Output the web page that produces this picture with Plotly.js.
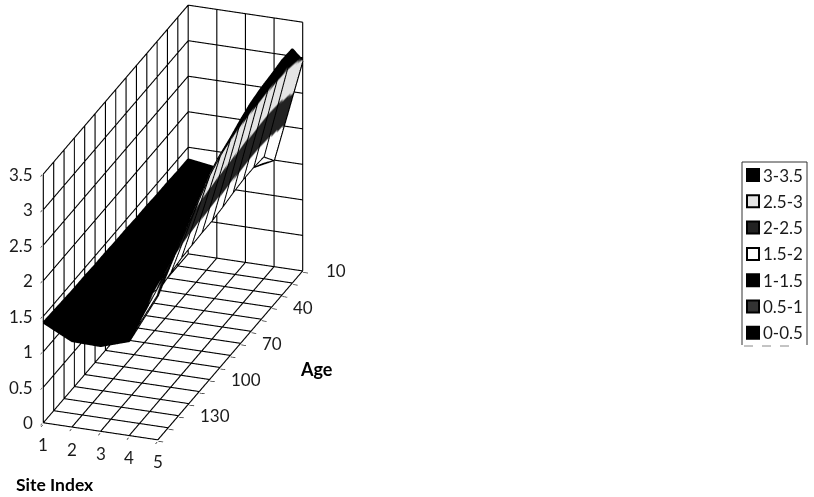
<!DOCTYPE html>
<html><head><meta charset="utf-8">
<script src="https://cdn.plot.ly/plotly-3.0.1.min.js"></script>
<style>html,body{margin:0;padding:0;background:#fff}#c{width:814px;height:497px}</style></head>
<body><div id="c"></div>
<script>
const sites=[1,2,3,4,5];
const ages=[10,20,30,40,50,60,70,80,90,100,110,120,130,140,150];
const site1=[1.33,1.33,1.34,1.34,1.35,1.35,1.36,1.36,1.37,1.37,1.38,1.38,1.39,1.40,1.41];
const site2=[1.27,1.27,1.27,1.26,1.26,1.26,1.25,1.25,1.24,1.24,1.23,1.23,1.22,1.22,1.21];
const site3=[1.30,1.30,1.29,1.29,1.28,1.28,1.27,1.26,1.26,1.25,1.24,1.23,1.22,1.21,1.20];
const site4=[1.50,1.72,1.74,1.74,1.72,1.69,1.67,1.67,1.66,1.65,1.62,1.57,1.50,1.42,1.33];
const site5=[2.96,3.29,3.30,3.27,3.25,3.21,3.14,3.05,2.98,2.88,2.72,2.56,2.40,2.22,2.03];
const ageTicks=[10,40,70,100,130];
const zTicks=[0,0.5,1,1.5,2,2.5,3,3.5];
const bands=['3-3.5','2.5-3','2-2.5','1.5-2','1-1.5','0.5-1','0-0.5'];
const bandFill=['#000000','#e4e4e4','#222222','#ffffff','#000000','#333333','#000000'];

const zMatrix=ages.map((a,i)=>[site1[i],site2[i],site3[i],site4[i],site5[i]]);
const n=bands.length, cs=[];
bands.slice().reverse().forEach((b,i)=>{const c=bandFill[n-1-i];cs.push([i/n,c]);cs.push([(i+1)/n,c]);});

const W=814,H=497;
const px=x=>x/W, py=y=>1-y/H;
const font='Lato, "Open Sans", sans-serif';
const txt='#1a1a1a';

const sMin=sites[0], sMax=sites[sites.length-1], aMin=ages[0], aMax=ages[ages.length-1], zMax=zTicks[zTicks.length-1];

/* grid and mesh as thick 3-D polylines, built from the data arrays */
const grid={x:[],y:[],z:[]}, mesh={x:[],y:[],z:[]};
const seg=(t,xs,ys,zs)=>{xs.forEach((v,i)=>{t.x.push(v);t.y.push(ys[i]);t.z.push(zs[i]);});t.x.push(null);t.y.push(null);t.z.push(null);};
ages.forEach(a=>{seg(grid,[sMin,sMax],[a,a],[0,0]);seg(grid,[sMin,sMin],[a,a],[0,zMax]);});
sites.forEach(s=>{seg(grid,[s,s],[aMin,aMax],[0,0]);seg(grid,[s,s],[aMin,aMin],[0,zMax]);});
zTicks.forEach(z=>{seg(grid,[sMin,sMin],[aMin,aMax],[z,z]);seg(grid,[sMin,sMax],[aMin,aMin],[z,z]);});
ages.forEach((a,i)=>seg(mesh,sites,sites.map(()=>a),zMatrix[i]));
sites.forEach((s,j)=>seg(mesh,ages.map(()=>s),ages,zMatrix.map(r=>r[j])));

const sceneAnn=[];
zTicks.forEach(z=>sceneAnn.push({x:1,y:150,z:z,text:String(z),showarrow:false,xanchor:'right',yanchor:'middle',xshift:-8,font:{family:font,size:17,color:txt}}));
sites.forEach(s=>sceneAnn.push({x:s,y:150,z:0,text:String(s),showarrow:false,xanchor:'center',yanchor:'middle',yshift:-22,font:{family:font,size:17,color:txt}}));
ageTicks.forEach(a=>sceneAnn.push({x:5,y:a,z:0,text:String(a),showarrow:false,xanchor:'left',yanchor:'middle',xshift:a===10?21:19,yshift:0,font:{family:font,size:17,color:txt}}));

const shapes=[
 {type:'path',xref:'paper',yref:'paper',path:`M ${px(742)} ${py(345)} L ${px(742)} ${py(162)} L ${px(807)} ${py(162)} L ${px(807)} ${py(345)}`,line:{color:'#333',width:1}},
 {type:'line',xref:'paper',yref:'paper',x0:px(744),x1:px(790),y0:py(346),y1:py(346),line:{color:'#888',width:1,dash:'dash'}}
];
const annotations=[
 {xref:'paper',yref:'paper',x:px(14),y:py(484),text:'<b>Site Index</b>',showarrow:false,xanchor:'left',yanchor:'middle',font:{family:font,size:17.5,color:'#000'}},
 {xref:'paper',yref:'paper',x:px(298),y:py(369),text:'<b>Age</b>',showarrow:false,xanchor:'left',yanchor:'middle',font:{family:font,size:18,color:'#000'}}
];
bands.forEach((b,i)=>{
  const cy=175+i*26.3;
  shapes.push({type:'rect',xref:'paper',yref:'paper',x0:px(747),x1:px(759),y0:py(cy+6),y1:py(cy-6),line:{color:'#000',width:2},fillcolor:bandFill[i]});
  annotations.push({xref:'paper',yref:'paper',x:px(761),y:py(cy),text:b,showarrow:false,xanchor:'left',yanchor:'middle',font:{family:font,size:17,color:txt}});
});

const ax=(extra)=>Object.assign({showbackground:false,showgrid:false,showline:false,zeroline:false,showticklabels:false,ticks:'outside',ticklen:5,tickcolor:'#111',tickwidth:1.5,showspikes:false,title:{text:''}},extra);

const eyeDist=1.5, boxScale=1.95;
Plotly.newPlot('c',[{
  type:'scatter3d',mode:'lines',x:grid.x,y:grid.y,z:grid.z,connectgaps:false,line:{color:'#000',width:2.2},hoverinfo:'skip'
},{
  type:'surface',x:sites,y:ages,z:zMatrix,colorscale:cs,cmin:0,cmax:3.5,showscale:false,hoverinfo:'skip',
  lighting:{ambient:1,diffuse:0,specular:0,roughness:1,fresnel:0}
},{
  type:'scatter3d',mode:'lines',x:mesh.x,y:mesh.y,z:mesh.z,connectgaps:false,line:{color:'#000',width:4},hoverinfo:'skip'
}],{
  width:W,height:H,margin:{l:0,r:0,t:0,b:0},paper_bgcolor:'#fff',showlegend:false,
  scene:{
    domain:{x:[0,346/W],y:[1-445/H,1]},
    xaxis:ax({range:[0.98,5.02],dtick:1,tick0:1}),
    yaxis:ax({range:[150.6,9.4],dtick:10,tick0:10}),
    zaxis:ax({range:[-0.02,3.52],dtick:0.5,tick0:0}),
    aspectmode:'manual',aspectratio:{x:0.283*boxScale,y:1*boxScale,z:0.6379*boxScale},
    camera:{eye:{x:0.3061*eyeDist,y:-0.8561*eyeDist,z:0.4172*eyeDist},center:{x:0,y:0,z:0},up:{x:0,y:0,z:1},projection:{type:'orthographic'}},
    annotations:sceneAnn
  },
  shapes:shapes,annotations:annotations
},{displayModeBar:false});
</script></body></html>
